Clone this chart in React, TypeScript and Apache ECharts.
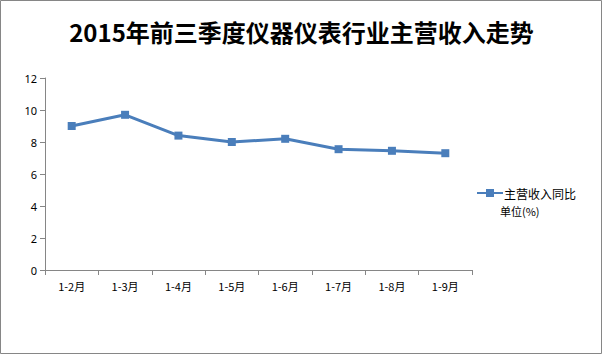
import React, { useEffect, useRef } from "react";
import * as echarts from "echarts";

const categories = ["1-2月", "1-3月", "1-4月", "1-5月", "1-6月", "1-7月", "1-8月", "1-9月"];
const values = [9.0, 9.7, 8.4, 8.0, 8.2, 7.55, 7.45, 7.3];
const seriesName = "主营收入同比";
const titleText = "2015年前三季度仪器仪表行业主营收入走势";
const unitText = "单位(%)";

export default function App() {
  const ref = useRef<HTMLDivElement>(null);
  useEffect(() => {
    document.body.style.margin = "0";
    const chart = echarts.init(ref.current!, null, { renderer: "svg" });
    chart.setOption({
      animation: false,
      backgroundColor: "#fff",
      title: {
        text: titleText,
        left: "center",
        top: 14,
        textStyle: {
          fontFamily: "Noto Sans CJK SC",
          fontWeight: "bold",
          fontSize: 24,
          color: "#000",
        },
      },
      grid: { left: 45, right: 131, top: 78, bottom: 85 },
      legend: {
        left: 471,
        top: 182,
        itemWidth: 26,
        itemHeight: 10,
        itemGap: 0,
        data: [{ name: seriesName }],
        textStyle: { fontFamily: "Noto Sans CJK SC", fontSize: 12, color: "#000", padding: [0, 0, 0, -4] },
      },
      xAxis: {
        type: "category",
        data: categories,
        boundaryGap: true,
        axisLine: { lineStyle: { color: "#868686", width: 1 } },
        axisTick: { show: true, length: 5, lineStyle: { color: "#868686" } },
        axisLabel: { color: "#000", fontSize: 11, fontFamily: "Noto Sans CJK SC", margin: 10 },
      },
      yAxis: {
        type: "value",
        min: 0,
        max: 12,
        interval: 2,
        axisLine: { show: true, lineStyle: { color: "#868686", width: 1 } },
        axisTick: { show: true, length: 5, lineStyle: { color: "#868686" } },
        splitLine: { show: false },
        axisLabel: { color: "#000", fontSize: 11, fontFamily: "Noto Sans", margin: 8 },
      },
      series: [
        {
          name: seriesName,
          type: "line",
          data: values,
          symbol: "rect",
          symbolSize: 8,
          lineStyle: { color: "#4a7ebb", width: 3 },
          itemStyle: { color: "#4a7ebb" },
        },
      ],
      graphic: [
        {
          type: "rect",
          shape: { x: 0.5, y: 0.5, width: 601, height: 353 },
          style: { fill: "none", stroke: "#868686", lineWidth: 1 },
        },
        {
          type: "text",
          left: 500,
          top: 205,
          style: { text: unitText, fontSize: 11, fontFamily: "Noto Sans CJK SC", fill: "#000" },
        },
      ],
    });
    return () => chart.dispose();
  }, []);
  return <div ref={ref} style={{ position: "absolute", left: 0, top: 0, width: 603, height: 355 }} />;
}
